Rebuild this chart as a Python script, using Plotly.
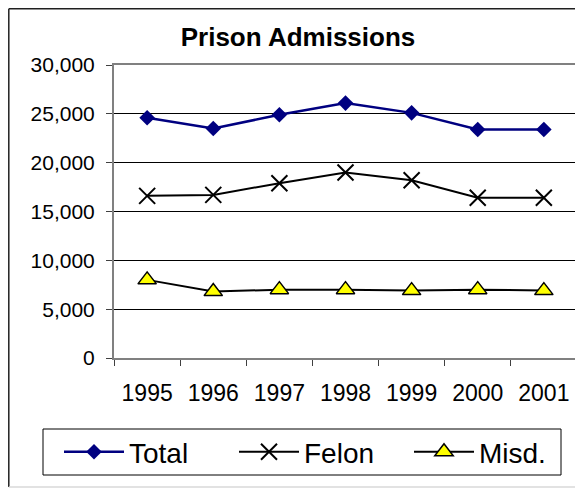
import plotly.graph_objects as go

### DATA
years = ['1995', '1996', '1997', '1998', '1999', '2000', '2001']
total = [24600, 23500, 24900, 26100, 25100, 23400, 23400]
felon = [16600, 16700, 17900, 19000, 18200, 16400, 16400]
misd = [8000, 6800, 7000, 7000, 6900, 7000, 6900]

FONT = 'Liberation Sans, Arial, sans-serif'

# page body has an 8px margin, so the figure is drawn 8px in from the window corner
OFF = 8
W, H = 583 - OFF, 489 - OFF
# plot area in window pixels: x 114..577, y 65..358
L, T = 114 - OFF, 65 - OFF
R = W - (577 - OFF)
B = H - (358 - OFF)
pw, ph = W - L - R, H - T - B


def px(x):
    """window x pixel -> paper coordinate"""
    return (x - OFF - L) / pw


def py(y):
    """window y pixel -> paper coordinate"""
    return (H - B - (y - OFF)) / ph


fig = go.Figure()

fig.add_trace(go.Scatter(
    x=years, y=total, name='Total', mode='lines+markers',
    line={'color': '#000080', 'width': 2.5},
    marker={'symbol': 'diamond', 'size': 12, 'color': '#000080'},
))

fig.add_trace(go.Scatter(
    x=years, y=felon, name='Felon', mode='lines+markers',
    line={'color': '#000000', 'width': 2},
    marker={'symbol': 'x-thin', 'size': 16, 'line': {'color': '#000000', 'width': 2}},
))

fig.add_trace(go.Scatter(
    x=years, y=misd, name='Misd.', mode='lines+markers',
    line={'color': '#000000', 'width': 2},
    marker={'symbol': 'triangle-up', 'size': 16, 'color': '#FFFF00',
            'line': {'color': '#000000', 'width': 1.5}},
))

# outer chart border (left/top pulled just inside the figure)
fig.add_shape(type='line', xref='paper', yref='paper',
              x0=px(8.8), x1=px(600), y0=py(8.8), y1=py(8.8),
              line={'color': '#202020', 'width': 1.5})
fig.add_shape(type='line', xref='paper', yref='paper',
              x0=px(8.8), x1=px(8.8), y0=py(8.8), y1=py(487),
              line={'color': '#202020', 'width': 1.5})
fig.add_shape(type='line', xref='paper', yref='paper',
              x0=px(8.8), x1=px(600), y0=py(487), y1=py(487),
              line={'color': '#d8d8d8', 'width': 1.5})
# legend frame
fig.add_shape(type='rect', xref='paper', yref='paper',
              x0=px(43), x1=px(561), y0=py(429), y1=py(475),
              line={'color': '#000000', 'width': 1})

fig.update_layout(
    width=W, height=H,
    margin={'l': L, 'r': R, 't': T, 'b': B, 'pad': 0, 'autoexpand': False},
    paper_bgcolor='white', plot_bgcolor='white',
    font={'family': FONT, 'color': '#000000'},
    title={
        'text': '<b>Prison Admissions</b>',
        'font': {'size': 26, 'family': FONT, 'color': '#000000'},
        'xref': 'container', 'yref': 'container',
        'x': (298 - OFF) / W, 'xanchor': 'center',
        'y': 1 - (37 - OFF) / H, 'yanchor': 'middle',
    },
    xaxis={
        'type': 'category',
        'showgrid': False,
        'showline': True, 'mirror': True,
        'linecolor': '#808080', 'linewidth': 2,
        'ticks': 'outside', 'tickson': 'boundaries',
        'ticklen': 6, 'tickcolor': '#404040', 'tickwidth': 1,
        'tickfont': {'size': 23, 'family': FONT},
        'ticklabelstandoff': 13,
    },
    yaxis={
        'range': [0, 30000],
        'tickvals': [0, 5000, 10000, 15000, 20000, 25000, 30000],
        'tickformat': ',',
        'showgrid': True, 'gridcolor': '#000000', 'gridwidth': 1,
        'zeroline': False,
        'showline': True, 'mirror': True,
        'linecolor': '#808080', 'linewidth': 2,
        'ticks': 'outside', 'ticklen': 6, 'tickcolor': '#404040', 'tickwidth': 1,
        'tickfont': {'size': 21, 'family': FONT},
        'ticklabelstandoff': 7,
    },
    legend={
        'orientation': 'h',
        'x': px(59), 'xanchor': 'left',
        'y': py(452), 'yanchor': 'middle',
        'bgcolor': 'rgba(0,0,0,0)',
        'borderwidth': 0,
        'font': {'size': 28, 'family': FONT},
        'entrywidth': 100,
        'itemwidth': 60,
        'tracegroupgap': 0,
    },
    showlegend=True,
)

fig.write_html('out.html')
